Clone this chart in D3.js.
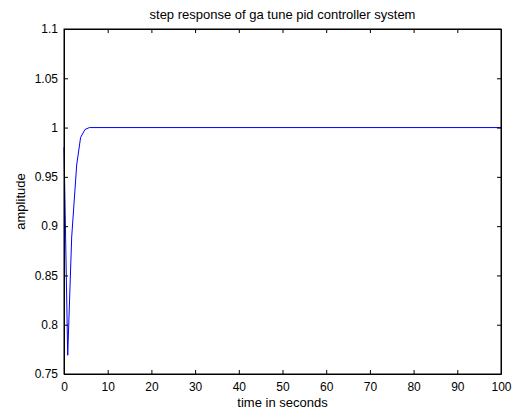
<!DOCTYPE html>
<html>
<head>
<meta charset="utf-8">
<script src="https://cdn.jsdelivr.net/npm/d3@7"></script>
<style>
  body { margin: 0; background: #fff; }
  text { font-family: "Liberation Sans", Arial, sans-serif; font-size: 13px; fill: #000; }
</style>
</head>
<body>
<div id="chart"></div>
<script>
// step response samples
var times = [0, 0.85, 1.76, 2.9, 3.8, 4.8, 5.8, 100];
var amplitude = [0.98, 0.769, 0.889, 0.962, 0.990, 0.998, 1.0, 1.0];
var xTicks = [0, 10, 20, 30, 40, 50, 60, 70, 80, 90, 100];
var yTicks = [0.75, 0.8, 0.85, 0.9, 0.95, 1, 1.05, 1.1];

var margin = {top: 29, right: 15, bottom: 38, left: 64},
    width = 516 - margin.left - margin.right,
    height = 412 - margin.top - margin.bottom;

var svg = d3.select("#chart").append("svg")
    .attr("width", 516)
    .attr("height", 412);

var g = svg.append("g")
    .attr("transform", "translate(" + margin.left + "," + margin.top + ")");

var x = d3.scaleLinear().domain([0, 100]).range([0, width]);
var y = d3.scaleLinear().domain([0.75, 1.1]).range([height, 0]);

var data = times.map(function(t, i) { return {t: t, a: amplitude[i]}; });

// curve
g.append("path")
    .datum(data)
    .attr("fill", "none")
    .attr("stroke", "#0000ff")
    .attr("stroke-width", 1)
    .attr("d", d3.line().x(function(d) { return x(d.t); }).y(function(d) { return y(d.a); }));

// axes with inward ticks, mirrored on top/right
var fmt = function(d) { return String(+d.toFixed(2)); };
var xAxis = d3.axisBottom(x).tickValues(xTicks).tickSizeInner(-4).tickSizeOuter(0).tickPadding(8);
var yAxis = d3.axisLeft(y).tickValues(yTicks).tickSizeInner(-4).tickSizeOuter(0).tickPadding(6).tickFormat(fmt);

g.append("g").attr("transform", "translate(0," + height + ")").call(xAxis);
g.append("g").call(yAxis);
g.append("g").call(d3.axisTop(x).tickValues(xTicks).tickSizeInner(-4).tickSizeOuter(0).tickFormat(""));
g.append("g").attr("transform", "translate(" + width + ",0)")
    .call(d3.axisRight(y).tickValues(yTicks).tickSizeInner(-4).tickSizeOuter(0).tickFormat(""));

g.selectAll(".domain").attr("stroke", "#000");
g.selectAll(".tick line").attr("stroke", "#000");
g.selectAll(".tick text").style("font-size", "12px").attr("fill", "#000")
    .style("font-family", "'Liberation Sans', Arial, sans-serif");

// box outline
g.append("rect")
    .attr("width", width)
    .attr("height", height)
    .attr("fill", "none")
    .attr("stroke", "#000")
    .attr("stroke-width", 1);

svg.append("text")
    .attr("x", margin.left + width / 2)
    .attr("y", 19)
    .attr("text-anchor", "middle")
    .text("step response of ga tune pid controller system");

svg.append("text")
    .attr("x", margin.left + width / 2)
    .attr("y", 407)
    .attr("text-anchor", "middle")
    .text("time in seconds");

svg.append("text")
    .attr("transform", "translate(25," + (margin.top + height / 2) + ") rotate(-90)")
    .attr("text-anchor", "middle")
    .text("amplitude");
</script>
</body>
</html>
